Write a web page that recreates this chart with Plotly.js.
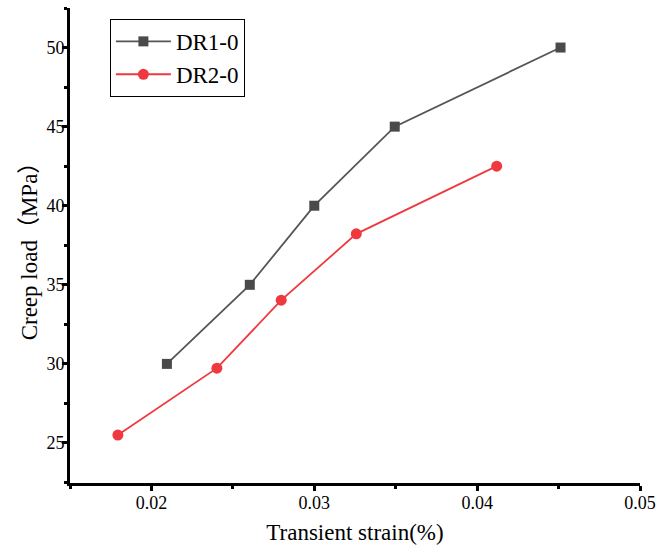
<!DOCTYPE html>
<html><head><meta charset="utf-8">
<script src="https://cdn.plot.ly/plotly-3.0.1.min.js"></script>
<style>html,body{margin:0;padding:0;background:#fff}</style>
</head><body>
<div id="chart" style="width:656px;height:549px"></div>
<script>
const dr1X = [0.02095, 0.02604, 0.0300, 0.03494, 0.04512];
const dr1Y = [30, 35, 40, 45, 50];
const dr2X = [0.01794, 0.02402, 0.02797, 0.03258, 0.0412];
const dr2Y = [25.5, 29.73, 34.03, 38.22, 42.5];
const names = ['DR1-0', 'DR2-0'];
const xTicks = [0.02, 0.03, 0.04, 0.05];
const xTickText = ['0.02', '0.03', '0.04', '0.05'];
const yTicks = [25, 30, 35, 40, 45, 50];

const font = 'Liberation Serif';
const traces = [
  {x: dr1X, y: dr1Y, name: names[0], mode: 'lines+markers', type: 'scatter',
   line: {color: '#555555', width: 1.8},
   marker: {symbol: 'square', size: 10, color: '#4a4a4a'}},
  {x: dr2X, y: dr2Y, name: names[1], mode: 'lines+markers', type: 'scatter',
   line: {color: '#f0393f', width: 1.8},
   marker: {symbol: 'circle', size: 11, color: '#f0393f'}}
];
const minorX = {ticks: 'outside', ticklen: 3, tickwidth: 2.5, tickcolor: '#000', dtick: 0.005, tick0: 0.015};
const minorY = {ticks: 'outside', ticklen: 3, tickwidth: 2.5, tickcolor: '#000', dtick: 2.5, tick0: 22.5};
const layout = {
  width: 656, height: 549,
  margin: {l: 70, r: 16, t: 8, b: 66},
  paper_bgcolor: '#fff', plot_bgcolor: '#fff',
  font: {family: font, color: '#000', size: 18},
  showlegend: true,
  legend: {x: 0.070, y: 0.977, xanchor: 'left', yanchor: 'top',
    bordercolor: '#000', borderwidth: 1, bgcolor: '#fff',
    font: {family: font, size: 23, color: '#000'}, tracegroupgap: 0, itemwidth: 55},
  xaxis: {
    showline: true, linecolor: '#000', linewidth: 3,
    ticks: 'outside', ticklen: 5, tickwidth: 2.5, tickcolor: '#000',
    showgrid: false, zeroline: false,
    tickfont: {family: font, size: 18, color: '#000'},
    ticklabelstandoff: -4,
    range: [0.015, 0.05], tickmode: 'array', tickvals: xTicks, ticktext: xTickText,
    minor: minorX,
    title: {text: 'Transient strain(%)', font: {family: font, size: 23, color: '#000'}, standoff: 13}
  },
  yaxis: {
    showline: true, linecolor: '#000', linewidth: 3,
    ticks: 'outside', ticklen: 5, tickwidth: 2.5, tickcolor: '#000',
    showgrid: false, zeroline: false,
    tickfont: {family: font, size: 18, color: '#000'},
    ticklabelstandoff: -6,
    range: [22.47, 52.5], tickmode: 'array', tickvals: yTicks,
    minor: minorY,
    title: {text: 'Creep load（MPa）', font: {family: 'Liberation Serif, Noto Sans CJK SC', size: 23, color: '#000'}, standoff: 3}
  }
};
Plotly.newPlot('chart', traces, layout, {displayModeBar: false});
</script>
</body></html>
